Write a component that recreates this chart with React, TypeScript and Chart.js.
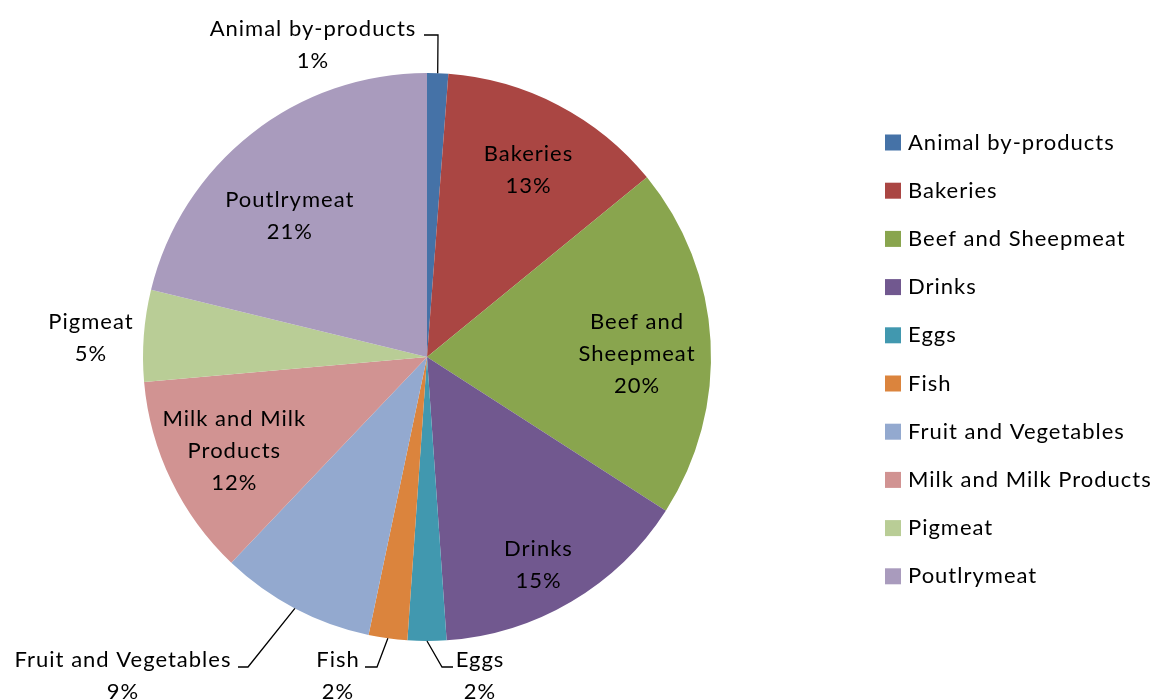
import React, { useEffect, useRef } from "react";
import { Chart, registerables } from "chart.js";

Chart.register(...registerables);

const categories = [
  "Animal by-products",
  "Bakeries",
  "Beef and Sheepmeat",
  "Drinks",
  "Eggs",
  "Fish",
  "Fruit and Vegetables",
  "Milk and Milk Products",
  "Pigmeat",
  "Poutlrymeat",
];
const values = [1.2, 12.9, 20.0, 14.8, 2.2, 2.2, 8.8, 11.5, 5.2, 21.2];
const percentLabels = ["1%", "13%", "20%", "15%", "2%", "2%", "9%", "12%", "5%", "21%"];
const colors = [
  "#4572A7",
  "#AA4643",
  "#89A54E",
  "#71588F",
  "#4198AF",
  "#DB843D",
  "#93A9CF",
  "#D19392",
  "#B9CD96",
  "#A99BBD",
];

// label text lines (name lines wrapped as in the original)
const labelLines: string[][] = [
  ["Animal by-products"],
  ["Bakeries"],
  ["Beef and", "Sheepmeat"],
  ["Drinks"],
  ["Eggs"],
  ["Fish"],
  ["Fruit and Vegetables"],
  ["Milk and Milk", "Products"],
  ["Pigmeat"],
  ["Poutlrymeat"],
];

// placement: inside -> fraction of radius along mid angle (+ angle shift deg)
// outside -> text centre offset from pie centre, plus leader elbow & end offsets
type Place =
  | { kind: "in"; r: number; da: number }
  | { kind: "out"; tx: number; ty: number; leader?: { ex: number; ey: number; hx: number; hy: number } };

const placements: Place[] = [
  { kind: "out", tx: -114, ty: -312, leader: { ex: 11, ey: -322, hx: -3, hy: -322 } },
  { kind: "in", r: 0.76, da: 0.5 },
  { kind: "in", r: 0.74, da: 1.5 },
  { kind: "in", r: 0.82, da: 2 },
  { kind: "out", tx: 53, ty: 319, leader: { ex: 15, ey: 310, hx: 26, hy: 310 } },
  { kind: "out", tx: -89, ty: 319, leader: { ex: -50, ey: 310, hx: -62, hy: 310 } },
  { kind: "out", tx: -304, ty: 319, leader: { ex: -179, ey: 310, hx: -189, hy: 310 } },
  { kind: "in", r: 0.75, da: 0.5 },
  { kind: "out", tx: -336, ty: -19 },
  { kind: "in", r: 0.7, da: -5.5 },
];

const FONT = "Lato, 'Open Sans', sans-serif";
const FONT_SIZE = 22;
const LETTER_SPACING = "1px";
const LINE_H = 32;
const INSIDE_DY = 3;

function setFont(ctx: any) {
  ctx.font = `${FONT_SIZE}px ${FONT}`;
  try {
    ctx.letterSpacing = LETTER_SPACING;
  } catch (e) {}
}

const labelsPlugin = {
  id: "sliceLabels",
  afterDatasetsDraw(chart: any) {
    const ctx = chart.ctx as CanvasRenderingContext2D;
    const meta = chart.getDatasetMeta(0);
    ctx.save();
    setFont(ctx);
    ctx.fillStyle = "#000";
    ctx.textAlign = "center";
    ctx.textBaseline = "middle";
    meta.data.forEach((arc: any, i: number) => {
      const { x, y, startAngle, endAngle, outerRadius } = arc.getProps(
        ["x", "y", "startAngle", "endAngle", "outerRadius"],
        true
      );
      const mid = (startAngle + endAngle) / 2;
      const lines = [...labelLines[i], percentLabels[i]];
      const p = placements[i];
      let cx: number, cy: number;
      if (p.kind === "in") {
        const a = mid + (p.da * Math.PI) / 180;
        cx = x + Math.cos(a) * outerRadius * p.r;
        cy = y + Math.sin(a) * outerRadius * p.r + INSIDE_DY;
      } else {
        cx = x + p.tx;
        cy = y + p.ty;
        if (p.leader) {
          ctx.beginPath();
          ctx.strokeStyle = "#000";
          ctx.lineWidth = 1.3;
          ctx.moveTo(x + Math.cos(mid) * outerRadius, y + Math.sin(mid) * outerRadius);
          ctx.lineTo(x + p.leader.ex, y + p.leader.ey);
          ctx.lineTo(x + p.leader.hx, y + p.leader.hy);
          ctx.stroke();
        }
      }
      const top = cy - ((lines.length - 1) * LINE_H) / 2;
      lines.forEach((t, k) => ctx.fillText(t, cx, top + k * LINE_H));
    });
    ctx.restore();
  },
};

const legendPlugin = {
  id: "sideLegend",
  afterDraw(chart: any) {
    const ctx = chart.ctx as CanvasRenderingContext2D;
    const x0 = chart.chartArea.right + 31;
    const y0 = 142.5;
    const step = 48.2;
    ctx.save();
    setFont(ctx);
    ctx.textAlign = "left";
    ctx.textBaseline = "middle";
    categories.forEach((c, i) => {
      const yy = y0 + i * step;
      ctx.fillStyle = colors[i];
      ctx.fillRect(x0, yy - 8, 16, 16);
      ctx.fillStyle = "#000";
      ctx.fillText(c, x0 + 23, yy);
    });
    ctx.restore();
  },
};

export default function App() {
  const ref = useRef<HTMLCanvasElement | null>(null);
  useEffect(() => {
    if (!ref.current) return;
    const chart = new Chart(ref.current, {
      type: "pie",
      data: {
        labels: categories,
        datasets: [
          {
            data: values,
            backgroundColor: colors,
            borderWidth: 0,
          },
        ],
      },
      options: {
        animation: false,
        responsive: true,
        maintainAspectRatio: false,
        layout: { padding: { top: 73, bottom: 59, left: 0, right: 304 } },
        plugins: {
          legend: { display: false },
          tooltip: { enabled: false },
        },
      },
      plugins: [labelsPlugin, legendPlugin],
    });
    return () => chart.destroy();
  }, []);
  return (
    <div style={{ position: "fixed", left: 0, top: 0, width: 1158, height: 700, background: "#fff" }}>
      <canvas ref={ref} />
    </div>
  );
}
